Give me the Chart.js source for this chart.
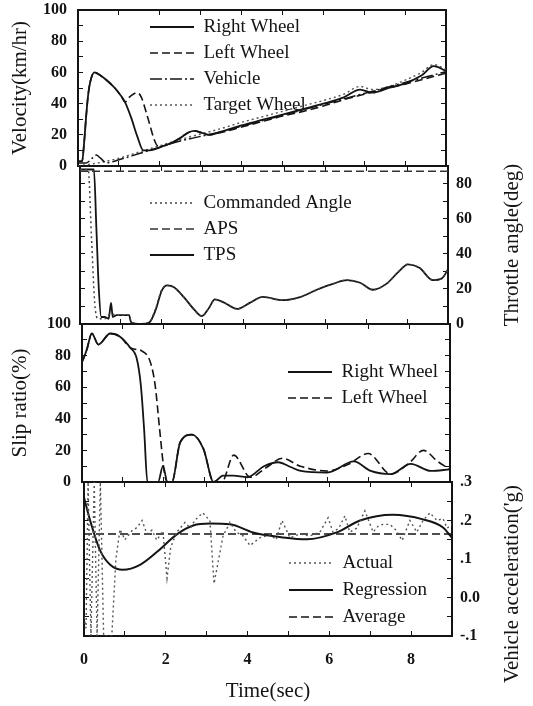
<!DOCTYPE html>
<html>
<head>
<meta charset="utf-8">
<script src="https://cdn.jsdelivr.net/npm/chart.js@4.4.0/dist/chart.umd.min.js"></script>
<style>
    html, body { margin: 0; padding: 0; background: #fff; }
    #figure { position: relative; width: 533px; height: 706px; }
    #figure canvas { position: absolute; left: 0; top: 0; }
</style>
</head>
<body>
<div id="figure">
    <canvas id="velocityChart" width="533" height="706"></canvas>
    <canvas id="throttleChart" width="533" height="706"></canvas>
    <canvas id="slipChart" width="533" height="706"></canvas>
    <canvas id="accelChart" width="533" height="706"></canvas>
</div>
<script>
// ---- Velocity (km/hr) ----
var rightWheelT = [0, 0.1, 0.15, 0.2, 0.25, 0.3, 0.4, 0.55, 0.7, 0.9, 1.05, 1.15, 1.3, 1.45, 1.6, 1.75, 1.9, 2.1, 2.3, 2.5, 2.7, 2.85, 3.0, 3.2, 3.5, 4.0, 4.5, 5.0, 5.5, 6.0, 6.5, 6.9, 7.2, 7.6, 8.0, 8.4, 8.7, 9.0];
var rightWheelV = [3, 3, 15, 32, 46, 54, 60, 58, 55, 50, 45, 41, 31, 19, 10, 10, 11, 13, 15, 18, 21.5, 22.5, 21.5, 20, 22, 26, 29.5, 33, 36.5, 40, 44, 49, 47, 50, 53, 58, 64, 61];
var leftWheelT = [0, 0.1, 0.15, 0.2, 0.25, 0.3, 0.4, 0.55, 0.7, 0.9, 1.05, 1.15, 1.25, 1.35, 1.45, 1.55, 1.65, 1.75, 1.85, 1.95, 2.1, 2.3, 2.5, 2.7, 2.85, 3.0, 3.2, 3.5, 4.0, 4.5, 5.0, 5.5, 6.0, 6.5, 7.0, 7.5, 8.0, 8.5, 9.0];
var leftWheelV = [3, 3, 15, 32, 46, 54, 60, 58, 55, 50, 45, 41, 44, 46, 47, 44, 36, 27, 18, 13, 13, 15, 18, 21.5, 22.5, 21.5, 20, 21.5, 25, 28.5, 32, 35, 38.5, 42.5, 46, 49.5, 52.5, 56, 59.5];
var vehicleT = [0, 0.2, 0.35, 0.45, 0.55, 0.7, 1.0, 1.5, 2.0, 2.5, 3.0, 3.5, 4.0, 4.5, 5.0, 5.5, 6.0, 6.5, 7.0, 7.5, 8.0, 8.5, 9.0];
var vehicleV = [2, 2, 5, 7, 5, 2, 4, 8, 12, 16, 19, 22, 25.5, 29, 32.5, 36, 39.5, 43, 46.5, 50, 53.5, 57, 60.5];
var targetT = [0, 0.5, 1.0, 1.5, 2.0, 2.5, 3.0, 3.5, 4.0, 4.5, 5.0, 5.5, 6.0, 6.5, 6.9, 7.2, 7.6, 8.0, 8.4, 8.7, 9.0];
var targetV = [0, 2, 5, 9, 13, 17, 20.5, 24, 28, 31.5, 35, 38.5, 42, 46, 51, 49, 51, 55, 60, 65, 62];

// ---- Throttle angle (deg) ----
var cmdT = [0, 0.2, 0.28, 0.36, 0.44, 0.6, 0.75, 0.9, 1.2, 1.25, 1.5, 1.7, 1.85, 2.0, 2.13, 2.3, 2.55, 2.8, 2.98, 3.15, 3.3, 3.5, 3.84, 4.15, 4.47, 4.96, 5.4, 5.79, 6.2, 6.53, 6.85, 7.16, 7.5, 7.8, 8.02, 8.3, 8.63, 8.85, 9.0];
var cmdV = [88, 88, 50, 12, 3, 3, 6, 5, 5, 1, 0, 1, 9, 19.5, 22, 21, 15, 8, 4.5, 9, 14, 12.5, 8.6, 12, 15.4, 13.6, 15.5, 19.5, 23, 25, 23.5, 19.5, 23, 30, 34, 32, 25, 26, 31];
var apsT = [0, 9];
var apsV = [87, 87];
var tpsT = [0, 0.34, 0.4, 0.46, 0.52, 0.6, 0.7, 0.76, 0.8, 0.9, 1.1, 1.2, 1.25, 1.5, 1.7, 1.85, 2.0, 2.13, 2.3, 2.55, 2.8, 2.98, 3.15, 3.3, 3.5, 3.84, 4.15, 4.47, 4.96, 5.4, 5.79, 6.2, 6.53, 6.85, 7.16, 7.5, 7.8, 8.02, 8.3, 8.63, 8.85, 9.0];
var tpsV = [88, 88, 55, 20, 4, 4, 3, 12, 4, 5, 5, 5, 1, 0, 1, 8, 19, 22, 21, 15, 8, 4.5, 9, 14, 12.5, 8.6, 12, 15.4, 13.6, 15.5, 19.5, 23, 25, 23.5, 19.5, 23, 30, 34, 32, 25, 26, 31];

// ---- Slip ratio (%) ----
var slipRightT = [0, 0.05, 0.12, 0.24, 0.4, 0.69, 0.93, 1.18, 1.34, 1.44, 1.52, 1.6, 1.86, 1.98, 2.09, 2.2, 2.4, 2.69, 2.97, 3.22, 3.45, 3.7, 4.04, 4.45, 4.8, 5.1, 5.35, 6.0, 6.65, 7.06, 7.55, 8.04, 8.53, 9.0];
var slipRightV = [76, 79, 84, 94, 87, 94, 92, 85, 78, 61, 33, 0, 0, 10, 0, 0, 25, 30, 21, 0, 4, 4, 3, 10, 12.5, 9.5, 7, 6, 13, 7, 5, 11.5, 7, 8];
var slipLeftT = [0, 0.05, 0.12, 0.24, 0.4, 0.69, 0.93, 1.18, 1.3, 1.46, 1.67, 1.79, 1.9, 2.02, 2.1, 2.2, 2.4, 2.69, 2.97, 3.22, 3.42, 3.71, 4.12, 4.5, 4.9, 5.34, 6.0, 6.5, 7.0, 7.55, 8.0, 8.35, 8.7, 9.0];
var slipLeftV = [76, 79, 84, 94, 87, 94, 92, 85, 84, 83, 76, 61, 33, 5, 0, 0, 25, 30, 21, 0, 0, 17, 3, 9, 15, 10, 7, 11, 18, 5, 12, 20, 13, 8];

// ---- Vehicle acceleration (g) ----
var actualT = [0, 0.05, 0.1, 0.17, 0.25, 0.32, 0.4, 0.48, 0.68, 0.78, 0.88, 1.0, 1.17, 1.3, 1.42, 1.54, 1.66, 1.78, 1.93, 2.03, 2.12, 2.27, 2.47, 2.6, 2.71, 2.9, 3.08, 3.18, 3.33, 3.4, 3.57, 3.72, 3.89, 4.06, 4.3, 4.55, 4.7, 4.84, 5.04, 5.28, 5.53, 5.77, 5.97, 6.09, 6.23, 6.38, 6.5, 6.67, 6.87, 7.07, 7.19, 7.31, 7.48, 7.63, 7.78, 7.97, 8.14, 8.29, 8.46, 8.63, 8.78, 8.88, 9.0];
var actualV = [-0.05, -0.08, 0.3, -0.1, 0.3, -0.1, 0.3, -0.1, -0.1, 0.1, 0.177, 0.15, 0.173, 0.182, 0.2, 0.165, 0.175, 0.149, 0.173, 0.05, 0.13, 0.17, 0.195, 0.18, 0.2, 0.22, 0.2, 0.036, 0.12, 0.16, 0.195, 0.17, 0.16, 0.135, 0.155, 0.163, 0.15, 0.2, 0.155, 0.165, 0.16, 0.17, 0.207, 0.17, 0.18, 0.212, 0.17, 0.18, 0.225, 0.17, 0.185, 0.19, 0.19, 0.175, 0.148, 0.2, 0.17, 0.2, 0.22, 0.2, 0.205, 0.18, 0.19];
var regT = [0, 0.15, 0.39, 0.64, 0.95, 1.37, 1.78, 2.27, 2.67, 3.08, 3.57, 4.13, 4.87, 5.45, 6.18, 6.75, 7.55, 8.29, 8.78, 9.0];
var regV = [0.26, 0.2, 0.123, 0.085, 0.072, 0.085, 0.118, 0.164, 0.187, 0.192, 0.19, 0.169, 0.156, 0.151, 0.169, 0.2, 0.215, 0.203, 0.182, 0.155];
var avgT = [0, 9];
var avgV = [0.165, 0.165];

var W = 533, H = 706, PLOT_W = 368;
var ink = '#141414';
var serif = '"Liberation Serif", "Times New Roman", serif';
var tickFont = { family: serif, size: 16, weight: 'bold' };
var titleFont = { family: serif, size: 21 };
var legendFont = { family: serif, size: 19 };

// pair up a time list and a value list
function pts(ts, vs) {
    return ts.map(function(t, i) { return { x: t, y: vs[i] }; });
}

function line(label, ts, vs, dash, width, color, axis, smooth) {
    return {
        label: label,
        data: pts(ts, vs),
        yAxisID: axis || 'y',
        borderColor: color || ink,
        borderWidth: width,
        borderDash: dash,
        pointRadius: 0,
        fill: false,
        tension: smooth === false ? 0 : 0.4,
        cubicInterpolationMode: smooth === false ? 'default' : 'monotone'
    };
}

// move the legend to a fixed spot inside the plot
var legendSpot = {
    id: 'legendSpot',
    afterLayout: function(chart, args, opts) {
        var lg = chart.legend;
        if (!lg || opts.x === undefined) { return; }
        lg.left = opts.x - opts.pad;
        lg.top = opts.y - opts.pad - legendFont.size / 2;
        lg.width = 320; lg.height = 200;
        lg.right = lg.left + 320;
        lg.bottom = lg.top + 200;
    }
};

// right hand titles read bottom to top, like the left ones
var sideTitle = {
    id: 'sideTitle',
    afterDraw: function(chart, args, opts) {
        if (!opts.text) { return; }
        var c = chart.ctx;
        c.save();
        c.translate(opts.x, opts.y);
        c.rotate(-Math.PI / 2);
        c.font = titleFont.size + 'px ' + serif;
        c.fillStyle = ink;
        c.textAlign = 'center';
        c.textBaseline = 'middle';
        c.fillText(opts.text, 0, 0);
        c.restore();
    }
};

function legendCfg(pad) {
    return {
        display: true,
        position: 'chartArea',
        align: 'start',
        labels: {
            usePointStyle: true,
            pointStyle: 'line',
            pointStyleWidth: 44,
            padding: pad,
            color: ink,
            font: legendFont,
            generateLabels: function(chart) {
                return Chart.defaults.plugins.legend.labels.generateLabels(chart).map(function(item) {
                    var ds = chart.data.datasets[item.datasetIndex];
                    item.lineDash = ds.borderDash || [];
                    item.lineWidth = ds.borderWidth;
                    item.strokeStyle = ds.borderColor;
                    return item;
                });
            }
        }
    };
}

function xAxis(pos, labelled, height) {
    var ax = {
        type: 'linear', position: pos, min: 0, max: 9,
        grid: { drawOnChartArea: false, tickLength: -5, color: ink, lineWidth: 1 },
        border: { color: ink, width: 2 },
        ticks: { stepSize: 1, autoSkip: false, display: labelled },
        afterFit: function(s) { s.height = height; s.paddingLeft = 0; s.paddingRight = 0; }
    };
    if (labelled) {
        ax.ticks.padding = 19;
        ax.ticks.color = ink;
        ax.ticks.font = tickFont;
        ax.ticks.maxRotation = 0;
        ax.ticks.callback = function(v) { return v % 2 === 0 ? v : ''; };
        ax.title = { display: true, text: 'Time(sec)', color: ink, font: titleFont, padding: { top: 0, bottom: 2 } };
    }
    return ax;
}

function yAxis(pos, spec, width) {
    var ax = {
        type: 'linear', position: pos, min: spec.min, max: spec.max,
        grid: { drawOnChartArea: false, tickLength: -5, color: ink, lineWidth: 1 },
        border: { color: ink, width: 2 },
        ticks: { stepSize: spec.step, autoSkip: false, display: !!spec.labels },
        // fixed widths keep the four plots lined up; no extra room for labels
        afterFit: function(s) { s.width = width; s.paddingTop = 0; s.paddingBottom = 0; }
    };
    if (spec.labels) {
        ax.ticks.callback = spec.labels;
        ax.ticks.padding = pos === 'left' ? 16 : 13;
        ax.ticks.color = ink;
        ax.ticks.font = tickFont;
    }
    if (spec.title) {
        ax.title = { display: true, text: spec.title, color: ink, font: titleFont, padding: { top: 8, bottom: 0 } };
    }
    return ax;
}

function buildPanel(id, box, datasets, axes) {
    var rightW = W - box.left - PLOT_W;
    var xh = axes.xLabels ? H - box.bottom : 0;
    return new Chart(document.getElementById(id), {
        type: 'line',
        data: { datasets: datasets },
        plugins: [legendSpot, sideTitle],
        options: {
            responsive: false,
            animation: false,
            events: [],
            layout: { padding: { left: 0, right: 0, top: box.top, bottom: H - box.bottom - xh } },
            scales: {
                x: xAxis('bottom', !!axes.xLabels, xh),
                xTop: xAxis('top', false, 0),
                y: yAxis('left', axes.left, box.left),
                yRight: yAxis('right', axes.right, rightW)
            },
            plugins: {
                legend: legendCfg(axes.legendAt.pad),
                tooltip: { enabled: false },
                legendSpot: axes.legendAt,
                sideTitle: axes.sideTitle || {}
            }
        }
    });
}

var every20 = function(v) { return v % 20 === 0 ? v : ''; };
var throttleLabels = function(v) { return (v % 20 === 0 && v <= 80) ? v : ''; };
var accelLabels = function(v) {
    var k = Math.round(v * 100);
    var map = { '30': '.3', '20': '.2', '10': '.1', '0': '0.0', '-10': '-.1' };
    return map[k] !== undefined ? map[k] : '';
};

var charts = [];

charts.push(buildPanel('velocityChart', { left: 78, top: 10, bottom: 166 }, [
    line('Right Wheel', rightWheelT, rightWheelV, [], 1.8),
    line('Left Wheel', leftWheelT, leftWheelV, [8, 4], 1.6),
    line('Vehicle', vehicleT, vehicleV, [12, 3, 2, 3], 1.5),
    line('Target Wheel', targetT, targetV, [2, 3], 1.4, '#555')
], {
    left: { min: 0, max: 100, step: 10, labels: every20, title: 'Velocity(km/hr)' },
    right: { min: 0, max: 100, step: 10 },
    legendAt: { x: 150, y: 27, pad: 7 }
}));

charts.push(buildPanel('throttleChart', { left: 80, top: 166, bottom: 324 }, [
    line('Commanded Angle', cmdT, cmdV, [2, 3], 1.5, '#444', 'yRight'),
    line('APS', apsT, apsV, [8, 4], 1.5, '#333', 'yRight'),
    line('TPS', tpsT, tpsV, [], 1.8, ink, 'yRight')
], {
    left: { min: 0, max: 90, step: 10 },
    right: { min: 0, max: 90, step: 10, labels: throttleLabels },
    legendAt: { x: 150, y: 203, pad: 7 },
    sideTitle: { text: 'Throttle angle(deg)', x: 512, y: 245 }
}));

charts.push(buildPanel('slipChart', { left: 82, top: 324, bottom: 482 }, [
    line('Right Wheel', slipRightT, slipRightV, [], 1.8),
    line('Left Wheel', slipLeftT, slipLeftV, [8, 4], 1.6)
], {
    left: { min: 0, max: 100, step: 10, labels: every20, title: 'Slip ratio(%)' },
    right: { min: 0, max: 100, step: 10 },
    legendAt: { x: 288, y: 372, pad: 7 }
}));

charts.push(buildPanel('accelChart', { left: 84, top: 482, bottom: 636 }, [
    line('Actual', actualT, actualV, [2, 3], 1.4, '#555', 'yRight', false),
    line('Regression', regT, regV, [], 2, ink, 'yRight'),
    line('Average', avgT, avgV, [8, 4], 1.6, ink, 'yRight')
], {
    left: { min: -0.1, max: 0.3, step: 0.05 },
    right: { min: -0.1, max: 0.3, step: 0.05, labels: accelLabels },
    legendAt: { x: 289, y: 563, pad: 8 },
    sideTitle: { text: "Vehicle acceleration('g)", x: 512, y: 584 },
    xLabels: true
}));
</script>
</body>
</html>
